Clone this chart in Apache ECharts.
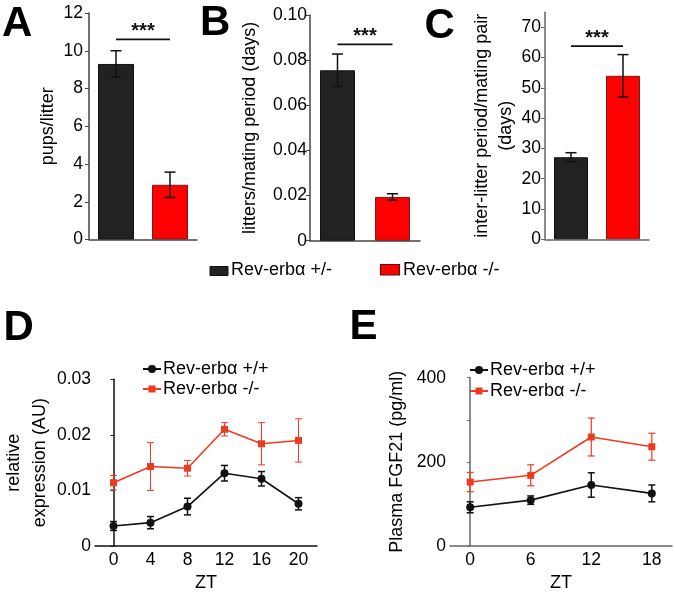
<!DOCTYPE html>
<html>
<head>
<meta charset="utf-8">
<script src="https://cdn.jsdelivr.net/npm/echarts@6/dist/echarts.min.js"></script>
<style>html,body{margin:0;padding:0;background:#fff;}#c{width:675px;height:593px;}</style>
</head>
<body>
<div id="c"></div>
<script>
// ---- data ----
const barCats = ['Rev-erbα +/-', 'Rev-erbα -/-'];
const pupsLitter = [9.3, 2.9];
const pupsLitterErr = [0.7, 0.67];
const littersPeriod = [0.0755, 0.0194];
const littersPeriodErr = [0.0072, 0.0014];
const interLitter = [27.1, 54.0];
const interLitterErr = [1.5, 7.0];
const sigA = 10.6, sigB = 0.087, sigC = 63.8;

const ztD = [0, 4, 8, 12, 16, 20];
const exprWT = [0.0036, 0.0042, 0.0071, 0.0131, 0.0121, 0.0076];
const exprWTErr = [0.0008, 0.0011, 0.0015, 0.0014, 0.0013, 0.0011];
const exprKO = [0.0114, 0.0143, 0.0140, 0.0210, 0.0184, 0.0190];
const exprKOErr = [0.0013, 0.0043, 0.0014, 0.0012, 0.0038, 0.0039];

const ztE = [0, 6, 12, 18];
const fgfWT = [92, 109, 145, 125];
const fgfWTErr = [13, 10, 29, 20];
const fgfKO = [152, 168, 259, 236];
const fgfKOErr = [23, 25, 45, 32];

const yTicksA = [0, 2, 4, 6, 8, 10, 12];
const yTicksB = [0, 0.02, 0.04, 0.06, 0.08, 0.10];
const yTicksC = [0, 10, 20, 30, 40, 50, 60, 70];
const yTicksD = [0, 0.01, 0.02, 0.03];
const yTicksE = [0, 200, 400];
const xTicksD = ztD;
const xTicksE = ztE;

// ---- styles ----
const FONT = 'Liberation Sans, Arial, sans-serif';
const FS = 18;
const BLACK = '#222222', RED = '#ff0000', LRED = '#ef3a22';
const barStyles = [
  {color: BLACK, borderColor: '#111', borderWidth: 1},
  {color: RED, borderColor: '#7a1a1a', borderWidth: 1}
];

function errRender(half, colors, width) {
  return function (params, api) {
    const x = api.value(0), y = api.value(1), e = api.value(2);
    const t = api.coord([x, y + e]), b = api.coord([x, y - e]);
    const c = Array.isArray(colors) ? colors[params.dataIndex] : colors;
    const st = {stroke: c, lineWidth: width};
    return {type: 'group', children: [
      {type: 'line', shape: {x1: t[0], y1: t[1], x2: b[0], y2: b[1]}, style: st},
      {type: 'line', shape: {x1: t[0] - half, y1: t[1], x2: t[0] + half, y2: t[1]}, style: st},
      {type: 'line', shape: {x1: b[0] - half, y1: b[1], x2: b[0] + half, y2: b[1]}, style: st}
    ]};
  };
}
function sigRender(params, api) {
  const y = api.value(1);
  const p0 = api.coord([0, y]), p1 = api.coord([1, y]);
  return {type: 'group', children: [
    {type: 'line', shape: {x1: p0[0], y1: p0[1], x2: p1[0], y2: p1[1]}, style: {stroke: '#111', lineWidth: 1.8}},
    {type: 'text', style: {text: '***', x: (p0[0] + p1[0]) / 2, y: p0[1] - 8, align: 'center', verticalAlign: 'middle',
      font: 'bold 20px ' + FONT, fill: '#111'}}
  ]};
}

const grids = [
  {left: 89, top: 13, width: 108, height: 226.5},
  {left: 310, top: 15, width: 110, height: 225.7},
  {left: 545, top: 12.2, width: 104, height: 227.1},
  {left: 95, top: 379.3, width: 222, height: 167.4},
  {left: 450, top: 377.7, width: 222, height: 169.6}
];

const lbl = {fontSize: FS, color: '#000', fontFamily: FONT};
function fmtNum(v) { return v === 0 ? '0' : (Math.abs(v) < 1 ? v.toFixed(2) : String(v)); }

function catX(gi, axisColor) {
  return {type: 'category', gridIndex: gi, data: barCats, boundaryGap: true,
    axisLine: {lineStyle: {color: axisColor, width: 1.5}}, axisTick: {show: false}, axisLabel: {show: false}};
}
function valY(gi, min, max, ticks, name, nameGap, axisColor, extra) {
  return Object.assign({type: 'value', gridIndex: gi, min: min, max: max,
    name: name, nameLocation: 'middle', nameGap: nameGap,
    nameTextStyle: Object.assign({}, lbl, extra || {}),
    splitLine: {show: false},
    axisLine: {show: true, lineStyle: {color: axisColor, width: 1.5}},
    axisTick: {show: true, length: 4, customValues: ticks, lineStyle: {color: axisColor}},
    axisLabel: Object.assign({}, lbl, {fontSize: 17.5, margin: 5, customValues: ticks, formatter: fmtNum})
  });
}
function valX(gi, min, max, ticks, axisColor) {
  return {type: 'value', gridIndex: gi, min: min, max: max, name: 'ZT', nameLocation: 'middle', nameGap: 28,
    nameTextStyle: lbl, splitLine: {show: false},
    axisLine: {show: true, lineStyle: {color: axisColor, width: 1.5}},
    axisTick: {show: false},
    axisLabel: Object.assign({}, lbl, {fontSize: 17.5, margin: 5, customValues: ticks, formatter: v => String(v)})};
}

const xAxes = [
  catX(0, '#444'), catX(1, '#444'), catX(2, '#666'),
  valX(3, -2, 22, xTicksD, '#111'), valX(4, -2, 20, xTicksE, '#666')
];
const yAxes = [
  valY(0, 0, 12, yTicksA, 'pups/litter', 32, '#444'),
  valY(1, 0, 0.1, yTicksB, 'litters/mating period (days)', 51, '#444'),
  valY(2, 0, 75, yTicksC, 'inter-litter period/mating pair\n(days)', 26, '#666', {lineHeight: 24}),
  valY(3, 0, 0.03, yTicksD, 'relative\nexpression (AU)', 37, '#111', {lineHeight: 26}),
  valY(4, 0, 400, [0, 100, 200, 300, 400], 'Plasma FGF21 (pg/ml)', 44, '#666')
];
yAxes[4].axisLabel.customValues = yTicksE;
yAxes[0].axisLabel.margin = 6;
yAxes[1].axisLabel.margin = 3;
yAxes[2].axisLabel.margin = 4;
yAxes[3].axisLabel.margin = 4;
yAxes[4].axisLabel.margin = 4;
yAxes[3].axisTick.length = 3;
yAxes[4].axisTick.length = 3;

const series = [];
function barPanel(gi, vals, errs, sig, bw) {
  series.push({type: 'bar', xAxisIndex: gi, yAxisIndex: gi, barWidth: bw,
    data: vals.map((v, i) => ({value: v, itemStyle: barStyles[i]})), silent: true});
  series.push({type: 'custom', xAxisIndex: gi, yAxisIndex: gi, renderItem: errRender(5.5, '#111', 1.5),
    data: vals.map((v, i) => [barCats[i], v, errs[i]]), z: 5});
  series.push({type: 'custom', xAxisIndex: gi, yAxisIndex: gi, renderItem: sigRender, data: [[barCats[0], sig]], z: 5});
}
barPanel(0, pupsLitter, pupsLitterErr, sigA, 36);
barPanel(1, littersPeriod, littersPeriodErr, sigB, 35);
barPanel(2, interLitter, interLitterErr, sigC, 34);

function linePanel(gi, xs, vals, errs, color, symbol, size, errW) {
  series.push({type: 'line', xAxisIndex: gi, yAxisIndex: gi, data: xs.map((x, i) => [x, vals[i]]),
    symbol: symbol, symbolSize: size, showAllSymbol: true,
    lineStyle: {color: color, width: 1.6}, itemStyle: {color: color}, z: 4});
  series.push({type: 'custom', xAxisIndex: gi, yAxisIndex: gi, renderItem: errRender(3.5, color, errW),
    data: xs.map((x, i) => [x, vals[i], errs[i]]), z: 3});
}
linePanel(3, ztD, exprKO, exprKOErr, LRED, 'rect', 7, 1);
linePanel(3, ztD, exprWT, exprWTErr, '#111', 'circle', 8, 1.5);
linePanel(4, ztE, fgfKO, fgfKOErr, LRED, 'rect', 7, 1.2);
linePanel(4, ztE, fgfWT, fgfWTErr, '#111', 'circle', 8, 1.5);

function letter(t, x, y) {
  return {type: 'text', x: x, y: y, style: {text: t, font: 'bold 42px ' + FONT, fill: '#000', verticalAlign: 'middle'}};
}
function lineLegend(x, y, t, color, sym) {
  const items = [
    {type: 'line', shape: {x1: x, y1: y, x2: x + 18, y2: y}, style: {stroke: color, lineWidth: 2}},
    sym === 'circle'
      ? {type: 'circle', shape: {cx: x + 9, cy: y, r: 4}, style: {fill: color}}
      : {type: 'rect', shape: {x: x + 5.5, y: y - 3.5, width: 7, height: 7}, style: {fill: color}},
    {type: 'text', x: x + 20, y: y, style: {text: t, font: FS + 'px ' + FONT, fill: '#000', verticalAlign: 'middle'}}
  ];
  return items;
}

const graphic = [
  letter('A', 2, 24), letter('B', 200, 23), letter('C', 424.5, 26.5), letter('D', 3.5, 328), letter('E', 349.5, 327),
  {type: 'rect', shape: {x: 210, y: 266.5, width: 18, height: 9}, style: {fill: BLACK, stroke: '#111', lineWidth: 1}},
  {type: 'text', x: 231, y: 270.5, style: {text: barCats[0], font: FS + 'px ' + FONT, fill: '#000', verticalAlign: 'middle'}},
  {type: 'rect', shape: {x: 380.5, y: 264.5, width: 19, height: 10.5}, style: {fill: RED, stroke: '#5a1010', lineWidth: 1.2}},
  {type: 'text', x: 403, y: 270.5, style: {text: barCats[1], font: FS + 'px ' + FONT, fill: '#000', verticalAlign: 'middle'}}
].concat(
  lineLegend(143, 369, 'Rev-erbα +/+', '#111', 'circle'),
  lineLegend(143, 389, 'Rev-erbα -/-', LRED, 'rect'),
  lineLegend(470, 370, 'Rev-erbα +/+', '#111', 'circle'),
  lineLegend(470, 391, 'Rev-erbα -/-', LRED, 'rect')
);

const chart = echarts.init(document.getElementById('c'), null, {renderer: 'canvas'});
chart.setOption({
  animation: false,
  backgroundColor: '#fff',
  textStyle: {fontFamily: FONT},
  grid: grids,
  xAxis: xAxes,
  yAxis: yAxes,
  series: series,
  graphic: graphic
});
</script>
</body>
</html>
